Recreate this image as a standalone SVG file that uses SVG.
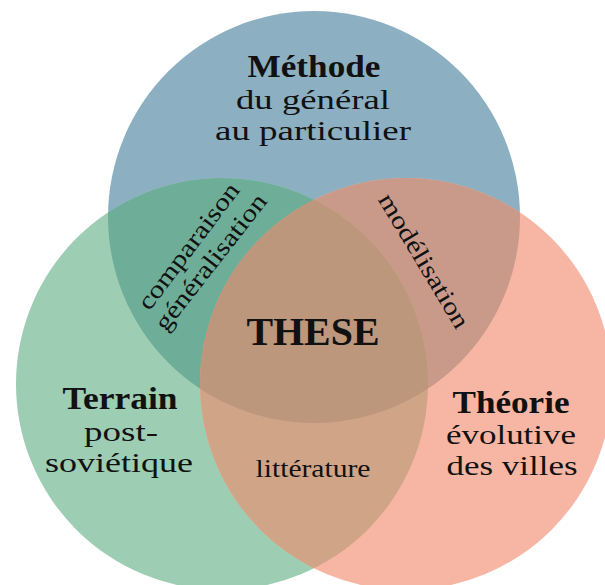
<svg xmlns="http://www.w3.org/2000/svg" width="605" height="585" viewBox="0 0 605 585">
<style>
text{font-family:"Liberation Serif","Times New Roman",serif;fill:#111;text-anchor:middle}
.t{font-weight:bold;font-size:31px}
.r{font-size:28px}
.s{font-size:25px}
</style>
<defs>
<clipPath id="cB"><circle cx="314" cy="217" r="206"/></clipPath>
<clipPath id="cG"><circle cx="222" cy="384" r="206"/></clipPath>
<clipPath id="cO"><circle cx="406" cy="384" r="206"/></clipPath>
</defs>
<rect width="605" height="585" fill="#ffffff"/>
<g id="circles">
<circle id="blue" cx="314" cy="217" r="206" fill="#8cb0c1"/>
<circle id="green" cx="222" cy="384" r="206" fill="#9dcdb2"/>
<circle id="orange" cx="406" cy="384" r="206" fill="#f6b6a3"/>
<circle cx="222" cy="384" r="206" fill="#6eae98" clip-path="url(#cB)"/>
<circle cx="406" cy="384" r="206" fill="#c99a8a" clip-path="url(#cB)"/>
<circle cx="406" cy="384" r="206" fill="#d0a487" clip-path="url(#cG)"/>
<g clip-path="url(#cG)"><circle cx="406" cy="384" r="206" fill="#bc977b" clip-path="url(#cB)"/></g>
</g>
<g id="methode">
<text class="t" x="314" y="77" textLength="133" lengthAdjust="spacingAndGlyphs">Méthode</text>
<text class="r" x="313" y="109" textLength="154" lengthAdjust="spacingAndGlyphs">du général</text>
<text class="r" x="313" y="140" textLength="196" lengthAdjust="spacingAndGlyphs">au particulier</text>
</g>
<g id="terrain">
<text class="t" x="120" y="409" textLength="115" lengthAdjust="spacingAndGlyphs">Terrain</text>
<text class="r" x="121" y="441" textLength="74" lengthAdjust="spacingAndGlyphs">post-</text>
<text class="r" x="119" y="472" textLength="148" lengthAdjust="spacingAndGlyphs">soviétique</text>
</g>
<g id="theorie">
<text class="t" x="511" y="413" textLength="117" lengthAdjust="spacingAndGlyphs">Théorie</text>
<text class="r" x="511" y="444" textLength="130" lengthAdjust="spacingAndGlyphs">évolutive</text>
<text class="r" x="512" y="475" textLength="131" lengthAdjust="spacingAndGlyphs">des villes</text>
</g>
<g id="these">
<text x="313" y="345" font-weight="bold" font-size="40" textLength="133" lengthAdjust="spacingAndGlyphs">THESE</text>
</g>
<g id="litterature">
<text class="s" x="313" y="477" textLength="115" lengthAdjust="spacingAndGlyphs">littérature</text>
</g>
<g id="comparaison">
<text class="s" transform="translate(195 251) rotate(-53)" textLength="152" lengthAdjust="spacingAndGlyphs">comparaison</text>
<text class="s" transform="translate(217 267) rotate(-52)" textLength="166" lengthAdjust="spacingAndGlyphs">généralisation</text>
</g>
<g id="modelisation">
<text class="s" transform="translate(417 265) rotate(59)" textLength="153" lengthAdjust="spacingAndGlyphs">modélisation</text>
</g>
</svg>
